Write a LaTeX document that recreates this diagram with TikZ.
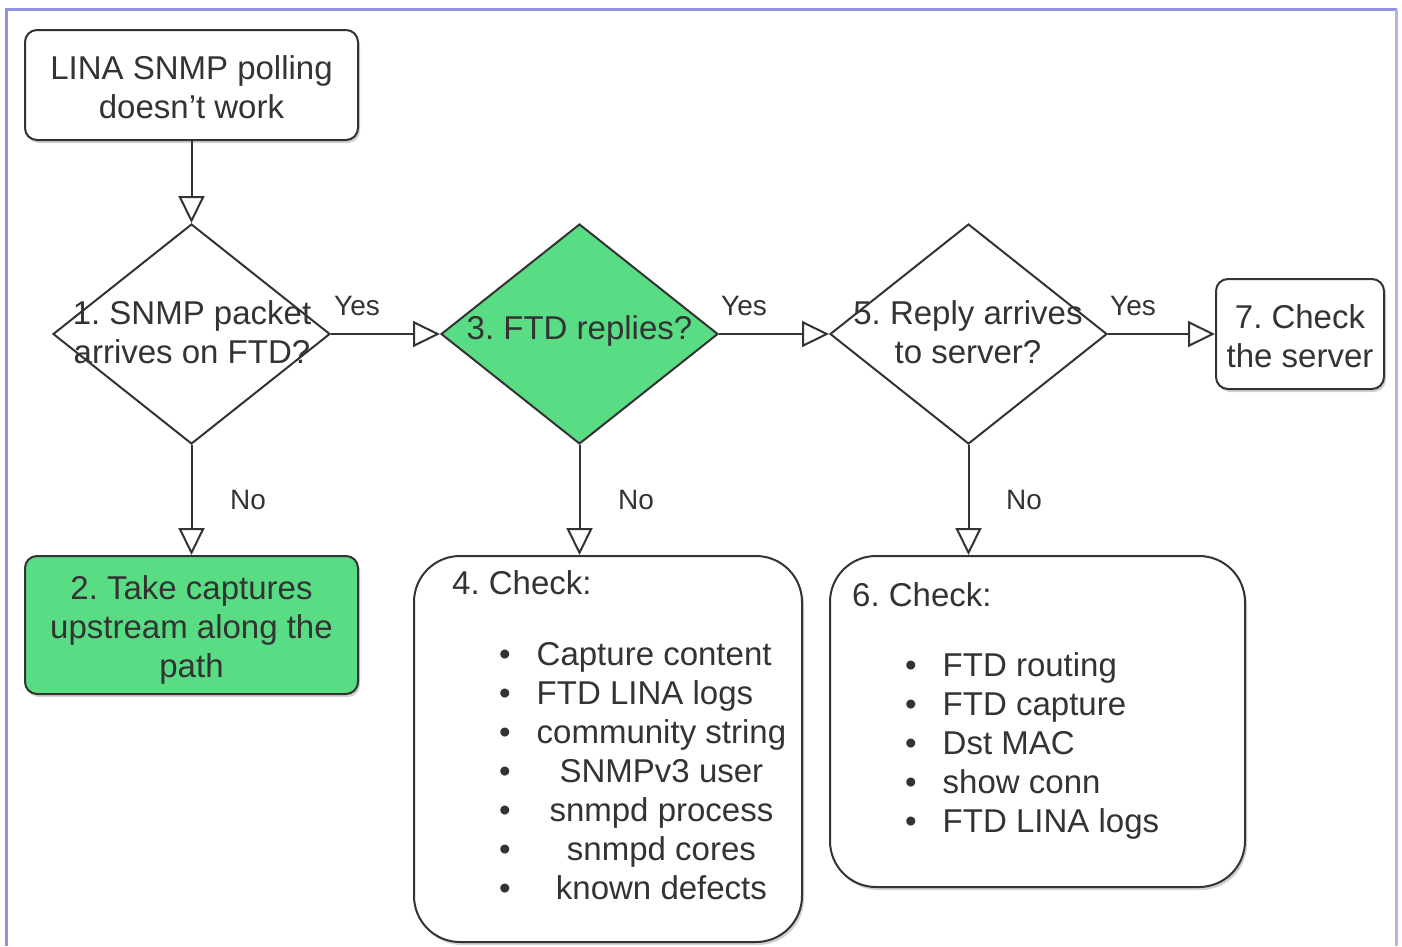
\documentclass[tikz,border=0pt]{standalone}
\usepackage{fontspec}
\setmainfont{Liberation Sans}
\usetikzlibrary{shapes.geometric,arrows.meta,shadows}
\definecolor{ink}{HTML}{333333}
\definecolor{okgreen}{RGB}{88,220,132}
\definecolor{frameblue}{HTML}{8E92E0}
\definecolor{frameblue2}{HTML}{B0B4EA}
\newlength\cwlen
\frenchspacing
\begin{document}
\begin{tikzpicture}[x=1pt,y=-1pt,
  every node/.style={text=ink, font=\fontsize{33}{39}\selectfont},
  box/.style={draw=ink, line width=2pt, rounded corners=12pt, inner sep=0pt,
    drop shadow={shadow xshift=2pt, shadow yshift=-3pt, fill=black, opacity=0.18}},
  bigbox/.style={box, rounded corners=46pt},
  dia/.style={draw=ink, line width=2pt, diamond, inner sep=0pt, aspect=1.26,
    minimum width=277pt, minimum height=220pt},
  txt/.style={align=center, inner sep=0pt},
  lbl/.style={inner sep=0pt, font=\fontsize{28}{32}\selectfont},
  flow/.style={draw=ink, line width=2pt, -{Triangle[open, length=27pt, width=26pt, line width=2pt]}}
]
\useasboundingbox (0,0) rectangle (1402,946);
\fill[white] (0,0) rectangle (1402,946);
% frame
\draw[frameblue, line width=3pt] (6.5,946) -- (6.5,9.5) -- (1396.5,9.5);
\draw[frameblue2, line width=3pt] (1396.5,9.5) -- (1396.5,946);

% nodes
\node[box, minimum width=333pt, minimum height=110pt, fill=white] (start) at (191.5,85) {};
\node[txt] (starttxt) at (191.5,87) {LINA SNMP polling\\doesn't work};

\node[dia, fill=white] (d1) at (191.5,334) {};
\node[txt] (d1txt) at (192,332) {1. SNMP packet\\arrives on FTD?};

\node[dia, fill=okgreen] (d3) at (579.5,334) {};
\node[txt] (d3txt) at (579.5,331) {3. FTD replies?};

\node[dia, fill=white] (d5) at (968.5,334) {};
\node[txt] (d5txt) at (968,332) {5. Reply arrives\\to server?};

\node[box, minimum width=168pt, minimum height=110pt, fill=white] (b7) at (1300,334) {};
\node[txt] (b7txt) at (1300,336) {7. Check\\the server};

\node[box, minimum width=333pt, minimum height=138pt, fill=okgreen] (b2) at (191.5,625) {};
\node[txt] (b2txt) at (191.5,630) {2. Take captures\\upstream along the\\path};

\node[bigbox, minimum width=388pt, minimum height=386pt, fill=white] (b4) at (608,749) {};
\node[inner sep=0pt, anchor=west] (b4head) at (452,583) {4. Check:};
\node[inner sep=0pt, anchor=west] (b4list) at (499,775) {%
  \settowidth{\cwlen}{community string}%
  \begin{tabular}{@{}c@{\hspace{26pt}}l@{}}
  \textbullet & Capture content\\
  \textbullet & FTD LINA logs\\
  \textbullet & community string\\
  \textbullet & \makebox[\cwlen][c]{SNMPv3 user}\\
  \textbullet & \makebox[\cwlen][c]{snmpd process}\\
  \textbullet & \makebox[\cwlen][c]{snmpd cores}\\
  \textbullet & \makebox[\cwlen][c]{known defects}
  \end{tabular}};

\node[bigbox, minimum width=415pt, minimum height=331pt, fill=white] (b6) at (1037.5,721.5) {};
\node[inner sep=0pt, anchor=west] (b6head) at (852,595) {6. Check:};
\node[inner sep=0pt, anchor=west] (b6list) at (905,747) {%
  \begin{tabular}{@{}c@{\hspace{26pt}}l@{}}
  \textbullet & FTD routing\\
  \textbullet & FTD capture\\
  \textbullet & Dst MAC\\
  \textbullet & show conn\\
  \textbullet & FTD LINA logs
  \end{tabular}};

% connectors
\draw[flow] (start.south) -- (d1.north);
\draw[flow] (d1.east) -- (d3.west);
\draw[flow] (d3.east) -- (d5.west);
\draw[flow] (d5.east) -- (b7.west);
\draw[flow] (d1.south) -- (b2.north);
\draw[flow] (d3.south) -- (d3.south |- b4.north);
\draw[flow] (d5.south) -- (d5.south |- b6.north);

% labels
\node[lbl] (y1) at (357,306) {Yes};
\node[lbl] (y2) at (744,306) {Yes};
\node[lbl] (y3) at (1133,306) {Yes};
\node[lbl] (n1) at (248,500) {No};
\node[lbl] (n2) at (636,500) {No};
\node[lbl] (n3) at (1024,500) {No};
\end{tikzpicture}
\end{document}
